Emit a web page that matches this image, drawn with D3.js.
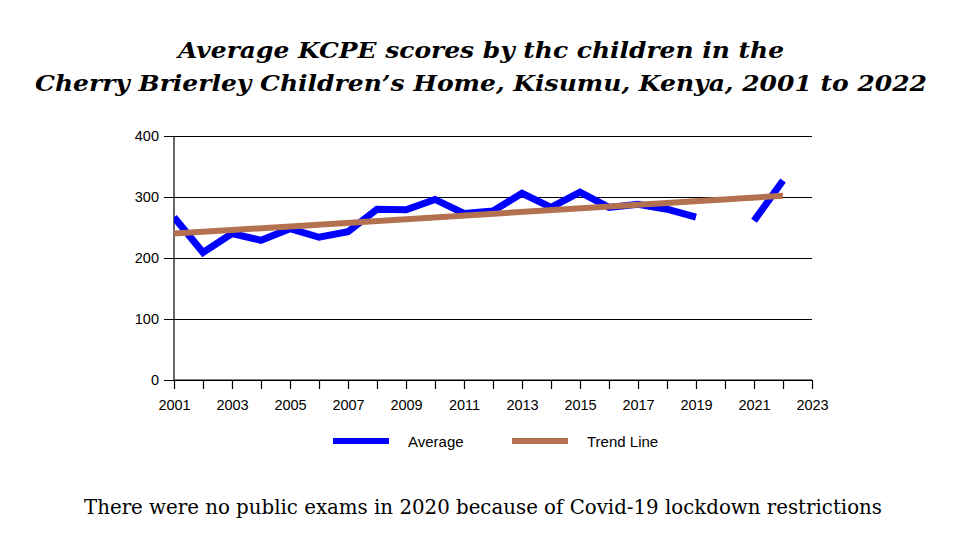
<!DOCTYPE html>
<html>
<head>
<meta charset="utf-8">
<script src="https://cdn.jsdelivr.net/npm/d3@7"></script>
<style>
  html, body { margin: 0; padding: 0; background: #fff; }
  svg { display: block; }
</style>
</head>
<body>
<svg id="chart" width="962" height="551"></svg>
<script>
const titleLines = [
  "Average KCPE scores by thc children in the",
  "Cherry Brierley Children\u2019s Home, Kisumu, Kenya, 2001 to 2022"
];
const footnote = "There were no public exams in 2020 because of Covid-19 lockdown restrictions";
const years = [2001,2002,2003,2004,2005,2006,2007,2008,2009,2010,2011,2012,2013,2014,2015,2016,2017,2018,2019,2020,2021,2022];
const averages = [267,209,240,229,248,234,243,280,279,296,273,277,306,283,308,283,288,280,267,null,261,327];
const trendYears = [2001, 2022];
const trendValues = [240, 302];
const yTicks = [0,100,200,300,400];
const xTickLabels = [2001,2003,2005,2007,2009,2011,2013,2015,2017,2019,2021,2023];
const seriesNames = ["Average", "Trend Line"];
const colors = ["#0000ff", "#b3714f"];

(function () {
const svg = d3.select("#chart");
const pL = 174, pR = 812, pT = 136, pB = 380;
const x = d3.scaleLinear().domain([2001, 2023]).range([pL, pR]);
const y = d3.scaleLinear().domain([0, 400]).range([pB, pT]);
const sans = "'Liberation Sans', Arial, sans-serif";

// Title
const tWidths = [606, 892];
const tBase = [58, 91];
titleLines.forEach((t, i) => {
  svg.append("text")
    .attr("x", 481).attr("y", tBase[i])
    .attr("text-anchor", "middle")
    .attr("font-family", "'DejaVu Serif', serif")
    .attr("font-weight", "bold").attr("font-style", "italic")
    .attr("font-size", 23)
    .attr("textLength", tWidths[i]).attr("lengthAdjust", "spacingAndGlyphs")
    .attr("fill", "#000")
    .text(t);
});

// Gridlines + y axis
const yAxis = d3.axisLeft(y).tickValues(yTicks).tickSize(pR - pL + 10).tickPadding(5).tickFormat(d3.format("d"));
const gy = svg.append("g").attr("transform", `translate(${pR},0)`).call(yAxis);
gy.select(".domain").remove();
gy.selectAll(".tick line").attr("stroke", "#000").attr("stroke-width", 1.2);
gy.selectAll(".tick text").attr("font-family", sans).attr("font-size", 14.5).attr("fill", "#000");

// Y axis line
svg.append("line").attr("x1", pL).attr("x2", pL).attr("y1", pT).attr("y2", pB).attr("stroke", "#000").attr("stroke-width", 1.2);

// X axis
const xAxis = d3.axisBottom(x).tickValues(d3.range(2001, 2024)).tickSize(9).tickPadding(11)
  .tickFormat(d => xTickLabels.includes(d) ? String(d) : "");
const gx = svg.append("g").attr("transform", `translate(0,${pB})`).call(xAxis);
gx.select(".domain").attr("stroke", "#000").attr("stroke-width", 1.2).attr("d", `M${pL},0H${pR}`);
gx.selectAll(".tick line").attr("stroke", "#000").attr("stroke-width", 1.2);
gx.selectAll(".tick text").attr("font-family", sans).attr("font-size", 14.5).attr("fill", "#000");

// Clip to plot area
svg.append("clipPath").attr("id", "plotclip").append("rect")
  .attr("x", pL).attr("y", pT - 20).attr("width", pR - pL).attr("height", pB - pT + 20);

// Average line
const avgData = years.map((yr, i) => ({ yr, v: averages[i] }));
const line = d3.line().defined(d => d.v !== null).x(d => x(d.yr)).y(d => y(d.v));
svg.append("path").datum(avgData)
  .attr("clip-path", "url(#plotclip)")
  .attr("fill", "none").attr("stroke", colors[0]).attr("stroke-width", 7)
  .attr("stroke-linejoin", "miter").attr("stroke-linecap", "butt")
  .attr("d", line);

// Trend line
const trendData = trendYears.map((yr, i) => ({ yr, v: trendValues[i] }));
svg.append("path").datum(trendData)
  .attr("fill", "none").attr("stroke", colors[1]).attr("stroke-width", 6)
  .attr("d", line);

// Legend
const legendX = [333, 512];
seriesNames.forEach((name, i) => {
  svg.append("line").attr("x1", legendX[i]).attr("x2", legendX[i] + 56)
    .attr("y1", 441).attr("y2", 441)
    .attr("stroke", colors[i]).attr("stroke-width", 6);
  svg.append("text").attr("x", legendX[i] + 75).attr("y", 446.5)
    .attr("font-family", sans).attr("font-size", 15).attr("fill", "#000")
    .text(name);
});

// Footnote
svg.append("text").attr("x", 483).attr("y", 514)
  .attr("text-anchor", "middle")
  .attr("font-family", "'DejaVu Serif', serif")
  .attr("font-size", 20)
  .attr("textLength", 798).attr("lengthAdjust", "spacingAndGlyphs")
  .attr("fill", "#000")
  .text(footnote);
})();
</script>
</body>
</html>
